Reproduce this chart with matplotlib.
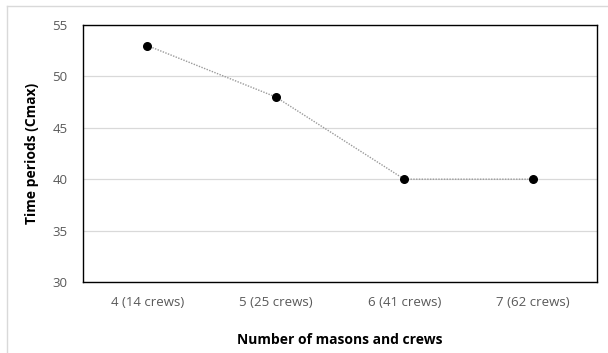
"""Cmax versus number of masons and crews."""

import matplotlib.pyplot as plt
from matplotlib.lines import Line2D

categories = ["4 (14 crews)", "5 (25 crews)", "6 (41 crews)", "7 (62 crews)"]
cmax = [53, 48, 40, 40]
y_ticks = [30, 35, 40, 45, 50, 55]


def main():
    plt.rcParams["font.family"] = ["Open Sans", "DejaVu Sans"]
    fig = plt.figure(figsize=(6.08, 3.53), dpi=100)
    ax = fig.add_axes([83 / 608, 1 - 282 / 353, 514 / 608, 257 / 353])

    x = range(len(categories))
    ax.plot(x, cmax, color="#9a9a9a", linestyle=(0, (1, 1)), linewidth=1.0, zorder=3)
    ax.scatter(x, cmax, s=30, color="black", zorder=4)

    ax.set_xlim(-0.5, len(categories) - 0.5)
    ax.set_ylim(30, 55)
    ax.set_yticks(y_ticks)
    ax.set_xticks(list(x))
    ax.set_xticklabels(categories)
    ax.tick_params(axis="both", length=0, colors="#595959", labelsize=9.5)
    ax.tick_params(axis="x", pad=10)
    ax.tick_params(axis="y", pad=11)
    ax.grid(axis="y", color="#d9d9d9", linewidth=0.9)
    ax.set_axisbelow(True)
    for spine in ax.spines.values():
        spine.set_color("black")
        spine.set_linewidth(1.0)

    ax.set_ylabel("Time periods (Cmax)", fontsize=10, fontweight="bold", labelpad=10)
    ax.set_xlabel("Number of masons and crews", fontsize=10, fontweight="bold", labelpad=17)

    # light outer chart border (top and left edges only are visible)
    fig.add_artist(Line2D([7 / 608, 1], [1 - 6 / 353] * 2, color="#d9d9d9", linewidth=1.0))
    fig.add_artist(Line2D([7 / 608] * 2, [0, 1 - 6 / 353], color="#d9d9d9", linewidth=1.0))

    fig.savefig("out.png", dpi=100, facecolor="white")


if __name__ == "__main__":
    main()
